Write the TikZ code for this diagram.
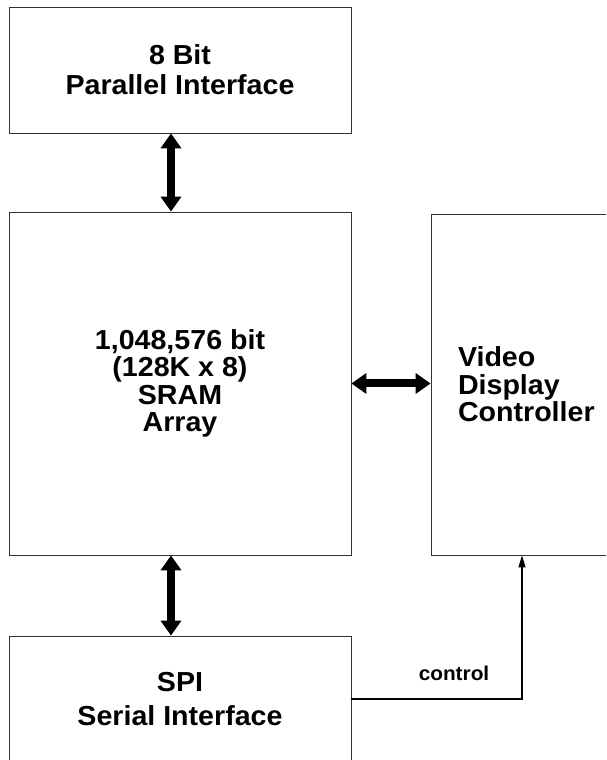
\documentclass[tikz,border=0pt]{standalone}
\usepackage{fontspec}
\setmainfont{Liberation Sans}[FakeStretch=1.04]
\usetikzlibrary{arrows.meta}

\tikzset{
  blockbox/.style={draw=black!80, line width=0.8pt, minimum width=342pt,
    align=center, font=\fontsize{27.5}{27.5}\selectfont\bfseries},
  busarrow/.style={line width=8pt, {Triangle[width=20pt,length=15pt]}-{Triangle[width=20pt,length=15pt]}},
  ctlarrow/.style={line width=1.1pt, -{Triangle[width=7pt,length=12pt]}}
}

\begin{document}
\begin{tikzpicture}[x=1pt,y=1pt]
    \useasboundingbox (0,0) rectangle (606,760);
    \clip (0,0) rectangle (606,760);
    % blocks
    \node[blockbox, minimum height=126pt] (par) at (180,690) {8 Bit\\[2.5pt]Parallel Interface};
    \node[blockbox, minimum height=343pt] (sram) at (180,376.5) {1,048,576 bit\\(128K x 8)\\SRAM\\Array};
    \node[blockbox, minimum height=341pt, text width=288pt, inner xsep=27pt, align=left] (vdc) at (602,375.5) {Video\\Display\\Controller};
    \node[blockbox, minimum height=126pt] (spi) at (180,61) {SPI\\[7pt]Serial Interface};
    % buses
    \draw[busarrow] ([xshift=-9pt]par.south) -- ([xshift=-9pt]sram.north);
    \draw[busarrow] ([xshift=-9pt]sram.south) -- ([xshift=-9pt]spi.north);
    \draw[busarrow] (sram.east) -- (sram.east -| vdc.west);
    % control line
    \draw[ctlarrow] (spi.east) -| ([xshift=-80pt]vdc.south);
    \node[font=\fontsize{20}{22}\selectfont\bfseries] (ctl) at (454,87) {control};
\end{tikzpicture}
\end{document}
